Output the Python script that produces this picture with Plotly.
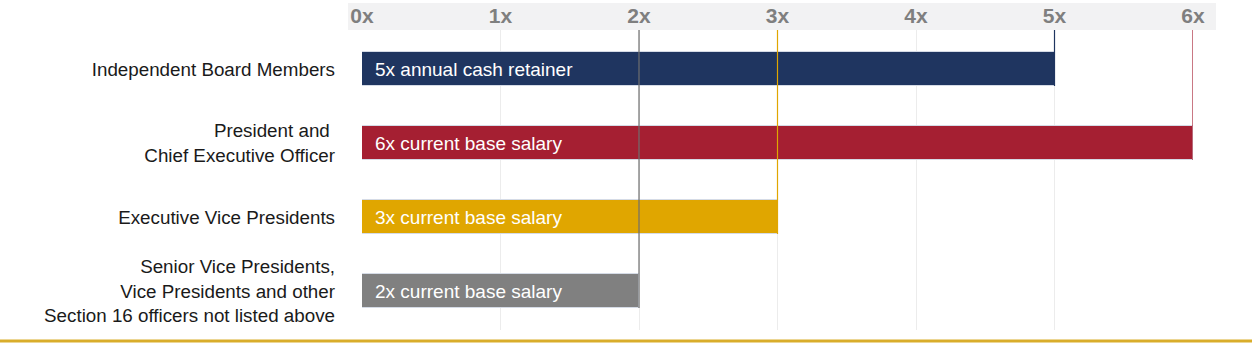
import plotly.graph_objects as go

# Ownership guideline data
roles = [
    "Independent Board Members",
    "President and <br>Chief Executive Officer",
    "Executive Vice Presidents",
    "Senior Vice Presidents,<br>Vice Presidents and other<br>Section 16 officers not listed above",
]
multiples = [5, 6, 3, 2]
bar_labels = [
    "5x annual cash retainer",
    "6x current base salary",
    "3x current base salary",
    "2x current base salary",
]
bar_colors = ["#1f3560", "#a51f32", "#e0a600", "#808080"]
tick_vals = [0, 1, 2, 3, 4, 5, 6]
tick_text = ["0x", "1x", "2x", "3x", "4x", "5x", "6x"]

W, H = 1252, 346
ML, MR, MT, MB = 362, 59, 30, 16
BAR_W = 0.46
Y_TOP, Y_BOT = -0.527, 3.527
FONT = "Liberation Sans, Arial"

fig = go.Figure()

idx = list(range(len(roles)))

# Vertical reference lines from header down to each bar's bottom edge
for i, (v, c) in enumerate(zip(multiples, bar_colors)):
    line_col = "#6e6e6e" if c == "#808080" else c
    fig.add_trace(go.Scatter(
        x=[v, v], y=[Y_TOP, i + BAR_W / 2], mode="lines",
        line=dict(color=line_col, width=1.2), hoverinfo="skip", showlegend=False,
    ))

fig.add_trace(go.Bar(
    x=multiples, y=idx, orientation="h", width=BAR_W,
    marker=dict(color=bar_colors, line=dict(color="#d5dbe6", width=1)),
    hoverinfo="skip", showlegend=False,
))

# Text inside bars
for i, t in enumerate(bar_labels):
    fig.add_annotation(
        x=0, y=i, text=t, xanchor="left", yanchor="middle", xshift=11,
        showarrow=False, font=dict(family=FONT, size=19, color="white"),
    )

# Grey header band behind the tick labels
fig.add_shape(
    type="rect", xref="paper", yref="paper",
    x0=-14 / (W - ML - MR), x1=1 + 23 / (W - ML - MR),
    y0=1, y1=1 + 27 / (H - MT - MB),
    fillcolor="#f2f2f3", line=dict(width=0), layer="below",
)

# Gold rule along the bottom
fig.add_shape(
    type="line", xref="paper", yref="paper",
    x0=-ML / (W - ML - MR), x1=1 + MR / (W - ML - MR),
    y0=-11 / (H - MT - MB), y1=-11 / (H - MT - MB),
    line=dict(color="#d9ad2b", width=3),
)

fig.update_xaxes(
    range=[0, 6], side="top", tickvals=tick_vals, ticktext=tick_text,
    tickfont=dict(family=FONT, size=21, color="#7f7f7f", weight="bold"),
    showgrid=True, gridcolor="#ececec", gridwidth=1, zeroline=False,
    showline=False, ticks="", ticklabelstandoff=2, automargin=False,
)
fig.update_yaxes(
    range=[Y_BOT, Y_TOP], tickvals=idx, ticktext=roles,
    tickfont=dict(family=FONT, size=18.8, color="#1a1a1a"),
    showgrid=False, zeroline=False, showline=False, ticks="", ticklabelstandoff=26,
    automargin=False,
)

fig.update_layout(
    width=W, height=H, margin=dict(l=ML, r=MR, t=MT, b=MB),
    paper_bgcolor="white", plot_bgcolor="white", bargap=0,
)

fig.write_html("out.html")
